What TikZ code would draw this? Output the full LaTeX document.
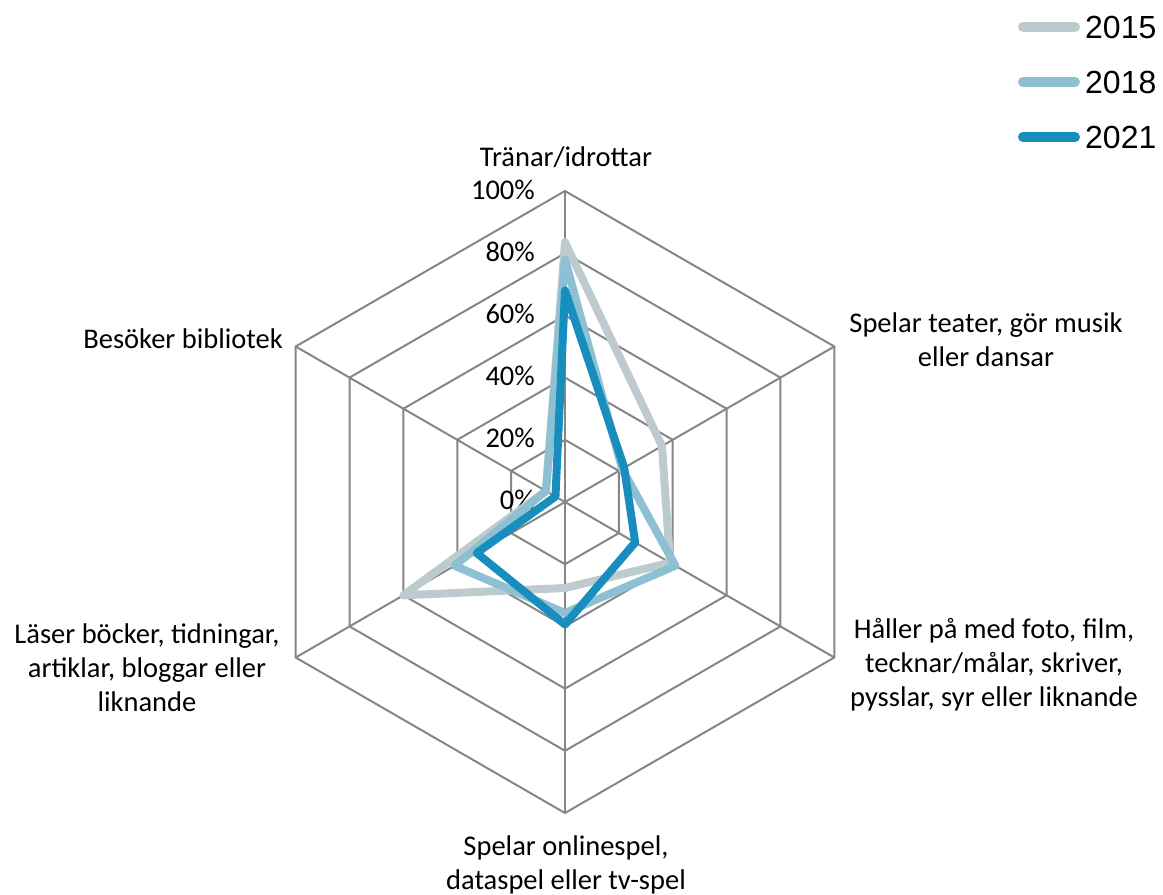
\documentclass[tikz,border=0pt]{standalone}
\usepackage{fontspec}
\setmainfont{Carlito}
\newfontfamily\legendfont{Liberation Sans}
\definecolor{c15}{RGB}{190,203,206}
\definecolor{c18}{RGB}{140,192,210}
\definecolor{c21}{RGB}{24,142,190}
\definecolor{gridgray}{RGB}{134,134,134}
\begin{document}
\begin{tikzpicture}[x=1pt, y=1pt,
  grid/.style={draw=gridgray, line width=2pt},
  s15/.style={draw=c15, line width=8pt, line join=round},
  s18/.style={draw=c18, line width=8pt, line join=round},
  s21/.style={draw=c21, line width=8pt, line join=round},
  key/.style={line width=10pt, line cap=round},
  lab/.style={font=\fontsize{28.5}{34}\selectfont, align=center, inner sep=0pt},
  pct/.style={font=\fontsize{28.5}{34}\selectfont, anchor=east, inner sep=0pt},
  leg/.style={font=\legendfont\fontsize{32}{38}\selectfont, anchor=west, inner sep=0pt}]
\useasboundingbox (-565,-393) rectangle (598,502);
% axes
\coordinate (c) at (0,0);
\coordinate (ax0) at (90:311);
\coordinate (ax1) at (30:311);
\coordinate (ax2) at (-30:311);
\coordinate (ax3) at (-90:311);
\coordinate (ax4) at (210:311);
\coordinate (ax5) at (150:311);
\draw[grid] (90:62.2) -- (30:62.2) -- (-30:62.2) -- (-90:62.2) -- (210:62.2) -- (150:62.2) -- cycle;
\draw[grid] (90:124.4) -- (30:124.4) -- (-30:124.4) -- (-90:124.4) -- (210:124.4) -- (150:124.4) -- cycle;
\draw[grid] (90:186.6) -- (30:186.6) -- (-30:186.6) -- (-90:186.6) -- (210:186.6) -- (150:186.6) -- cycle;
\draw[grid] (90:248.8) -- (30:248.8) -- (-30:248.8) -- (-90:248.8) -- (210:248.8) -- (150:248.8) -- cycle;
\draw[grid] (ax0) -- (ax1) -- (ax2) -- (ax3) -- (ax4) -- (ax5) -- cycle;
\draw[grid](c) -- (ax0);
\draw[grid](c) -- (ax1);
\draw[grid](c) -- (ax2);
\draw[grid](c) -- (ax3);
\draw[grid](c) -- (ax4);
\draw[grid](c) -- (ax5);
% scale
\node[pct] (p0) at (-30,2) {0\%};
\node[pct] (p20) at (-30,64) {20\%};
\node[pct] (p40) at (-30,126) {40\%};
\node[pct] (p60) at (-30,188) {60\%};
\node[pct] (p80) at (-30,250) {80\%};
\node[pct] (p100) at (-30,312) {100\%};
% categories
\node[lab] (cat0) at (1,345) {Tränar/idrottar};
\node[lab] (cat1) at (421,162) {Spelar teater, gör musik\\eller dansar};
\node[lab] (cat2) at (429,-163) {Håller på med foto, film,\\tecknar/målar, skriver,\\pysslar, syr eller liknande};
\node[lab] (cat3) at (1,-363) {Spelar onlinespel,\\dataspel eller tv-spel};
\node[lab] (cat4) at (-418,-166) {Läser böcker, tidningar,\\artiklar, bloggar eller\\liknande};
\node[lab, anchor=east] (cat5) at (-282,163) {Besöker bibliotek};
% 2015
\coordinate (a0) at (90:259.7);
\coordinate (a1) at (30:112);
\coordinate (a2) at (-30:121.3);
\coordinate (a3) at (-90:86);
\coordinate (a4) at (210:186.6);
\coordinate (a5) at (150:22);
\draw[s15](a0) -- (a1) -- (a2) -- (a3) -- (a4) -- (a5) -- cycle;
% 2018
\coordinate (b0) at (90:242.6);
\coordinate (b1) at (30:66);
\coordinate (b2) at (-30:127.5);
\coordinate (b3) at (-90:111);
\coordinate (b4) at (210:127.5);
\coordinate (b5) at (150:22);
\draw[s18](b0) -- (b1) -- (b2) -- (b3) -- (b4) -- (b5) -- cycle;
% 2021
\coordinate (d0) at (90:211.5);
\coordinate (d1) at (30:68.4);
\coordinate (d2) at (-30:81);
\coordinate (d3) at (-90:122.5);
\coordinate (d4) at (210:102);
\coordinate (d5) at (150:11);
\draw[s21](d0) -- (d1) -- (d2) -- (d3) -- (d4) -- (d5) -- cycle;
% legend
\node[leg] (t15) at (520,475) {2015};
\coordinate (k15a) at (458,475);
\coordinate (k15b) at (510,475);
\draw[s15, key](k15a) -- (k15b);
\node[leg] (t18) at (520,420) {2018};
\coordinate (k18a) at (458,420);
\coordinate (k18b) at (510,420);
\draw[s18, key](k18a) -- (k18b);
\node[leg] (t21) at (520,365) {2021};
\coordinate (k21a) at (458,365);
\coordinate (k21b) at (510,365);
\draw[s21, key](k21a) -- (k21b);
\end{tikzpicture}
\end{document}
